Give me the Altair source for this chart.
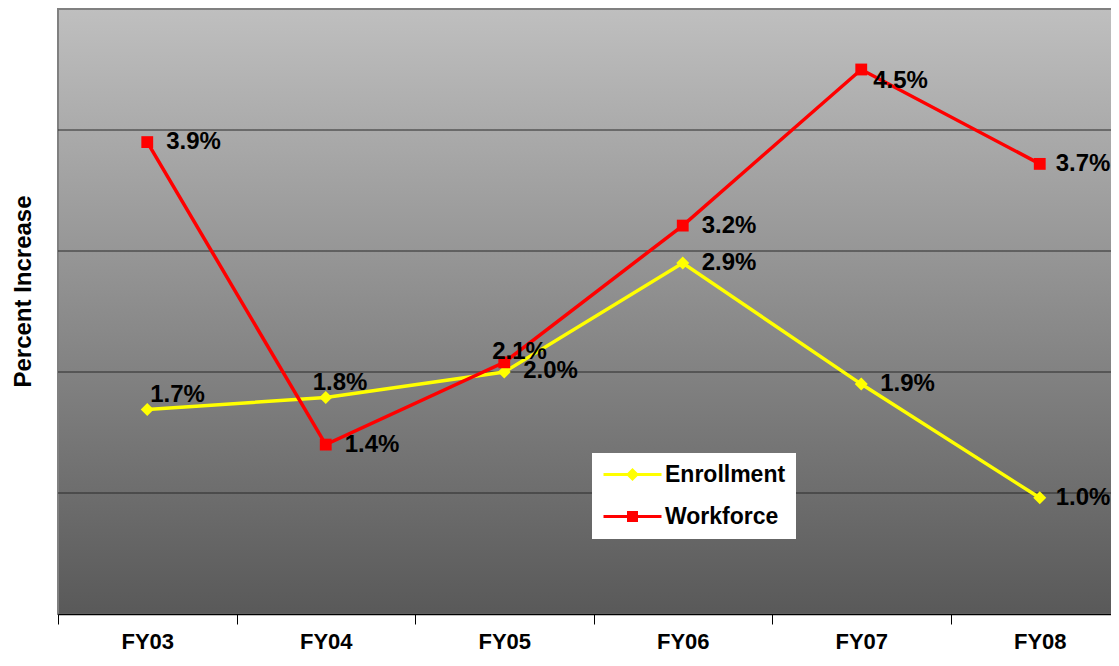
import altair as alt
import pandas as pd

years = ["FY03", "FY04", "FY05", "FY06", "FY07", "FY08"]
enrollment = [1.69, 1.79, 2.0, 2.9, 1.9, 0.96]
workforce = [3.9, 1.4, 2.08, 3.21, 4.5, 3.72]
series_names = ["Enrollment", "Workforce"]
series_colors = ["#ffff00", "#ff0000"]
grid_values = [1, 2, 3, 4]

rows = []
for yr, e, w in zip(years, enrollment, workforce):
    rows.append({"year": yr, "series": "Enrollment", "value": e})
    rows.append({"year": yr, "series": "Workforce", "value": w})
df = pd.DataFrame(rows)
df["label"] = df["value"].map(lambda v: f"{v:.1f}%")
grid_df = pd.DataFrame({"value": grid_values})

W, H = 1053, 605          # visible plot area (panel continues past the page edge)
FULL_W = 1071             # full band range of the x axis
FONT = "Liberation Sans"

xscale = alt.Scale(domain=years, paddingInner=0, paddingOuter=0, range=[0, FULL_W])
yscale = alt.Scale(domain=[0, 5], nice=False, zero=True)
cscale = alt.Scale(domain=series_names, range=series_colors)

x_enc = alt.X(
    "year:N", scale=xscale, sort=years,
    axis=alt.Axis(title=None, labelFont=FONT, labelFontSize=22, labelFontWeight="bold",
                  labelColor="black", labelPadding=7, tickBand="extent", tickColor="black",
                  tickSize=10, domainColor="black", domainWidth=1.5, labelAngle=0,
                  grid=False, zindex=1))
y_enc = alt.Y(
    "value:Q", scale=yscale,
    axis=alt.Axis(title="Percent Increase", titleFont=FONT, titleFontSize=24,
                  titleFontWeight="bold", titleColor="black", titlePadding=23,
                  titleY=282, labels=False, ticks=False, domain=False, grid=False))

gradient = alt.LinearGradient(
    gradient="linear",
    stops=[alt.GradientStop(color="#bfbfbf", offset=0),
           alt.GradientStop(color="#595959", offset=1)],
    x1=0, x2=0, y1=0, y2=1)

bg = alt.Chart(pd.DataFrame({"a": [0]})).mark_rect(
    fill=gradient, stroke="#808080", strokeWidth=2).encode(
    x=alt.value(0), x2=alt.value(FULL_W), y=alt.value(0), y2=alt.value(H))

grid = alt.Chart(grid_df).mark_rule(color="#2a2a2a", strokeWidth=1).encode(y=y_enc)

base = alt.Chart(df)
enr = base.transform_filter("datum.series === 'Enrollment'")
wrk = base.transform_filter("datum.series === 'Workforce'")

enr_line = enr.mark_line(strokeWidth=3.5, color=series_colors[0]).encode(x=x_enc, y=y_enc)
wrk_line = wrk.mark_line(strokeWidth=3.5, color=series_colors[1]).encode(x=x_enc, y=y_enc)
enr_pts = enr.mark_point(shape="diamond", filled=True, size=170, opacity=1,
                         color=series_colors[0]).encode(x=x_enc, y=y_enc)
wrk_pts = wrk.mark_point(shape="square", filled=True, size=140, opacity=1,
                         color=series_colors[1]).encode(x=x_enc, y=y_enc)

# legend symbols: line with marker
path_e = "M-2.9,-0.16L2.9,-0.16L2.9,0.16L-2.9,0.16Z M0,-0.65L0.65,0L0,0.65L-0.65,0Z"
path_w = "M-2.9,-0.16L2.9,-0.16L2.9,0.16L-2.9,0.16Z M-0.55,-0.55L0.55,-0.55L0.55,0.55L-0.55,0.55Z"
leg = dict(orient="none", legendX=534, legendY=444, title=None, fillColor="white",
           padding=10, labelFont=FONT, labelFontSize=23, labelFontWeight="bold",
           labelColor="black", symbolSize=400, symbolOffset=19, labelOffset=21,
           rowPadding=18, symbolStrokeWidth=0)
legend_layer = base.mark_point(filled=True, size=400, opacity=1, clip=True).encode(
    x=alt.value(-500), y=alt.value(-500),
    color=alt.Color("series:N", scale=cscale, legend=alt.Legend(**leg)),
    shape=alt.Shape("series:N", scale=alt.Scale(domain=series_names, range=[path_e, path_w]),
                    legend=alt.Legend(**leg)))

special = {
    ("Enrollment", "FY03"): (3, -15),
    ("Enrollment", "FY04"): (-13, -14),
    ("Workforce", "FY05"): (-12, -10),
    ("Workforce", "FY07"): (12, 11),
    ("Enrollment", "FY05"): (19, -1),
    ("Enrollment", "FY08"): (16, 0),
    ("Workforce", "FY08"): (16, 0),
}
txt_kw = dict(font=FONT, fontSize=24, fontWeight="bold", color="black",
              align="left", baseline="middle")
label_layers = []
conds = []
for (s, yr), (dx, dy) in special.items():
    cond = f"(datum.series === '{s}' && datum.year === '{yr}')"
    conds.append(cond)
    label_layers.append(base.transform_filter(cond).mark_text(dx=dx, dy=dy, **txt_kw).encode(
        x=x_enc, y=y_enc, text="label:N"))
label_layers.append(base.transform_filter("!(" + " || ".join(conds) + ")").mark_text(
    dx=19, dy=0, **txt_kw).encode(x=x_enc, y=y_enc, text="label:N"))

chart = alt.layer(
    bg, grid, enr_line, wrk_line, enr_pts, wrk_pts, *label_layers, legend_layer
).properties(
    width=W, height=H,
    padding={"left": 50, "top": 1, "right": 0, "bottom": 40},
    autosize=alt.AutoSizeParams(type="none"),
    background="white",
).configure_view(stroke=None)

chart.save("out.html", embed_options={"renderer": "svg", "actions": False})
